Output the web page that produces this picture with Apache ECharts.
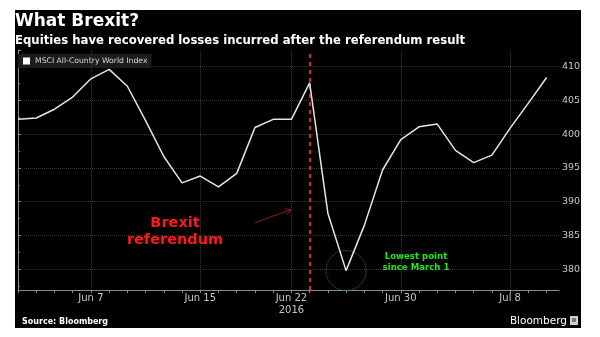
<!DOCTYPE html>
<html><head><meta charset="utf-8">
<script src="https://cdn.jsdelivr.net/npm/echarts@6/dist/echarts.min.js"></script>
<style>html,body{margin:0;padding:0;background:#fff}#c{width:600px;height:337px}</style>
</head><body><div id="c"></div>
<script>
// ---- data ----
const dates = ['Jun 1','Jun 2','Jun 3','Jun 6','Jun 7','Jun 8','Jun 9','Jun 10','Jun 13','Jun 14','Jun 15','Jun 16','Jun 17','Jun 20','Jun 21','Jun 22','Jun 23','Jun 24','Jun 27','Jun 28','Jun 29','Jun 30','Jul 1','Jul 4','Jul 5','Jul 6','Jul 7','Jul 8','Jul 11','Jul 12'];
const msciValues = [402.2,402.4,403.7,405.5,408.2,409.6,407.1,402.0,396.7,392.8,393.8,392.2,394.2,401.0,402.2,402.2,407.6,388.3,379.8,386.5,394.7,399.2,401.1,401.5,397.6,395.8,396.9,400.9,404.6,408.4];
const seriesName = 'MSCI All-Country World Index';
const xTickLabels = ['Jun 7','Jun 15','Jun 22','Jun 30','Jul 8'];
const yearLabelDate = 'Jun 22';
const yearLabel = '2016';
const yTickValues = [380,385,390,395,400,405,410];
const referendumDate = 'Jun 23';
const lowestDate = 'Jun 27';
const titleText = 'What Brexit?';
const subtitleText = 'Equities have recovered losses incurred after the referendum result';
const sourceText = 'Source: Bloomberg';
const brandText = 'Bloomberg';
const brexitNote = 'Brexit\nreferendum';
const lowNote = 'Lowest point\nsince March 1';

// ---- chart ----
const FONT = 'DejaVu Sans';
const chart = echarts.init(document.getElementById('c'), null, {renderer:'canvas'});
const labelIdx = {};
xTickLabels.forEach(d => { labelIdx[dates.indexOf(d)] = d === yearLabelDate ? d + '\n' + yearLabel : d; });
const lowI = dates.indexOf(lowestDate);

const option = {
  animation: false,
  backgroundColor: '#fff',
  textStyle: {fontFamily: FONT},
  grid: {left: 18, right: 41, top: 50, bottom: 47, containLabel: false},
  legend: {
    left: 18, top: 54, icon: 'rect', itemWidth: 7, itemHeight: 7,
    padding: [3, 4, 3, 5], backgroundColor: '#1c1c1c',
    data: [{name: seriesName, itemStyle: {color: '#ffffff'}}],
    textStyle: {color: '#d8d8d8', fontSize: 7.7, fontFamily: FONT}
  },
  xAxis: {
    type: 'value', min: 0, max: 29.68, interval: 1,
    axisLine: {show: true, lineStyle: {color: '#8a8a8a', width: 1}},
    axisTick: {show: true, length: 3, lineStyle: {color: '#8a8a8a'}},
    splitLine: {show: false},
    axisLabel: {
      color: '#c8c8c8', fontSize: 10, margin: 3, lineHeight: 11.5,
      showMinLabel: true, showMaxLabel: false,
      formatter: v => labelIdx[Math.round(v)] !== undefined && Math.abs(v - Math.round(v)) < 1e-6 ? labelIdx[Math.round(v)] : ''
    }
  },
  yAxis: {
    type: 'value', position: 'right', min: 376.93, max: 412.47, splitNumber: 7,
    axisLine: {show: true, lineStyle: {color: '#8a8a8a', width: 1}},
    axisTick: {show: true, length: 3, inside: false, lineStyle: {color: '#8a8a8a'}},
    minorTick: {show: true, splitNumber: 2, length: 2, lineStyle: {color: '#8a8a8a'}},
    splitLine: {show: true, showMinLine: false, showMaxLine: false, lineStyle: {color: '#383838', type: 'dotted', width: 1}},
    axisLabel: {
      color: '#c8c8c8', fontSize: 9.5, margin: 3,
      showMinLabel: false, showMaxLabel: false,
      formatter: v => yTickValues.indexOf(Math.round(v * 100) / 100) >= 0 ? String(Math.round(v)) : ''
    }
  },
  series: [{
    name: seriesName, type: 'line', symbol: 'none',
    data: msciValues.map((v, i) => [i, v]),
    lineStyle: {color: '#e6e6e6', width: 1.5},
    itemStyle: {color: '#e6e6e6'},
    z: 5,
    markLine: {
      silent: true, symbol: ['none', 'none'], label: {show: false},
      data: xTickLabels.map(d => ({xAxis: dates.indexOf(d), lineStyle: {color: '#383838', type: 'dotted', width: 1}}))
        .concat([{xAxis: dates.indexOf(referendumDate), lineStyle: {color: '#e3202c', type: [4, 4], width: 2}}])
    },
    markPoint: {
      silent: true,
      data: [{coord: [lowI, msciValues[lowI]], symbol: 'circle', symbolSize: 40,
        itemStyle: {color: 'rgba(0,0,0,0)', borderColor: '#2a9a2a', borderWidth: 1, borderType: 'dotted'},
        label: {show: false}}]
    }
  }],
  graphic: {elements: [
    {type: 'rect', z: -100, silent: true, shape: {x: 15, y: 10, width: 566, height: 318}, style: {fill: '#000'}},
    {type: 'text', z: 10, style: {x: 15, y: 21.5, text: titleText, fill: '#fff', font: 'bold 17px "DejaVu Sans"', textVerticalAlign: 'middle'}},
    {type: 'text', z: 10, style: {x: 15, y: 40.5, text: subtitleText, fill: '#fff', font: 'bold 11.7px "DejaVu Sans"', textVerticalAlign: 'middle'}},
    {type: 'text', z: 10, style: {x: 175, y: 232, text: brexitNote, fill: '#ff1a1a', font: 'bold 14.5px "DejaVu Sans"', lineHeight: 17, textAlign: 'center', textVerticalAlign: 'middle'}},
    {type: 'line', z: 10, shape: {x1: 255, y1: 222.5, x2: 291.5, y2: 209.5}, style: {stroke: '#8e1b1b', lineWidth: 1}},
    {type: 'polyline', z: 10, shape: {points: [[284.5, 208.9], [291.5, 209.5], [286.5, 214.4]]}, style: {stroke: '#8e1b1b', lineWidth: 1, fill: null}},
    {type: 'text', z: 10, style: {x: 416, y: 262.5, text: lowNote, fill: '#22e622', font: 'bold 8.6px "DejaVu Sans"', lineHeight: 11, textAlign: 'center', textVerticalAlign: 'middle'}},
    {type: 'text', z: 10, style: {x: 22, y: 322, text: sourceText, fill: '#fff', font: 'bold 8px "DejaVu Sans"', textVerticalAlign: 'middle'}},
    {type: 'text', z: 10, style: {x: 567, y: 321, text: brandText, fill: '#fff', font: '10.5px "DejaVu Sans"', textAlign: 'right', textVerticalAlign: 'middle'}},
    {type: 'rect', z: 10, shape: {x: 570, y: 316, width: 8, height: 9}, style: {fill: '#d0d0d0'}},
    {type: 'rect', z: 11, shape: {x: 572, y: 318, width: 4, height: 4}, style: {fill: '#7a7a7a'}}
  ]}
};
chart.setOption(option);
</script></body></html>
